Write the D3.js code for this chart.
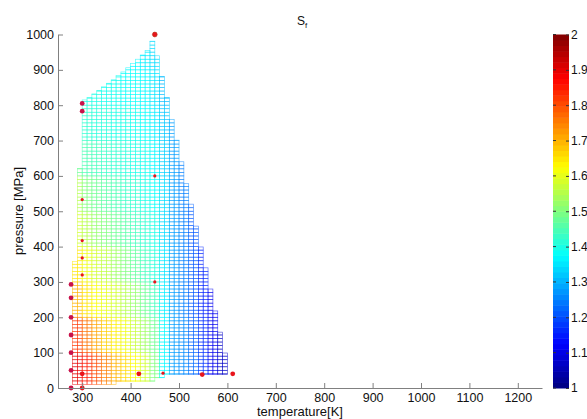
<!DOCTYPE html>
<html><head><meta charset="utf-8">
<script src="https://cdn.jsdelivr.net/npm/d3@7"></script>
<style>
body{margin:0;background:#fff}
text{font-family:"Liberation Sans",Arial,sans-serif}
</style>
</head><body>
<svg id="chart" width="587" height="419"></svg>
<script>
// ---------- data ----------
const xTicks = [300,400,500,600,700,800,900,1000,1100,1200];
const yTicks = [0,100,200,300,400,500,600,700,800,900,1000];
const cbTicks = [1,1.1,1.2,1.3,1.4,1.5,1.6,1.7,1.8,1.9,2];

// mesh columns (temperature start of each 10 K column), top / bottom pressure
const colStartT = [280,290,300,310,320,330,340,350,360,370,380,390,400,410,420,430,440,450,460,470,480,490,500,510,520,530,540,550,560,570,580,590];
const colTopP   = [358,621,815,822,832,842,852,862,872,884,894,906,918,930,942,955,981,940,881,822,760,701,640,578,520,458,399,340,280,218,158,99];
const colBottomP= [10,10,10,10,10,10,10,10,10,19,19,19,19,19,19,19,19,29,29,38,38,38,38,38,38,38,38,38,38,38,38,38];
const meshStepT = 10, meshStepP = 10;

// S_f values read per 20 K x 100 MPa block
const sfTBins = [280,300,320,340,360,380,400,420,440,460,480,500,520,540,560,580];
const sfPBins = [0,100,200,300,400,500,600,700,800,900];
const sfP0   = [1.90,1.85,1.80,1.75,1.70,1.66,1.62,1.58,1.50,1.37,1.28,1.26,1.23,1.18,1.11,1.07];
const sfP100 = [1.82,1.76,1.71,1.67,1.64,1.61,1.57,1.53,1.48,1.37,1.28,1.26,1.22,1.17,1.11,1.07];
const sfP200 = [1.70,1.65,1.62,1.60,1.58,1.55,1.52,1.48,1.44,1.36,1.28,1.25,1.21,1.16,1.11,1.07];
const sfP300 = [1.65,1.61,1.58,1.56,1.53,1.50,1.47,1.44,1.41,1.35,1.28,1.25,1.21,1.16,1.11,1.07];
const sfP400 = [1.58,1.55,1.52,1.50,1.48,1.46,1.44,1.42,1.40,1.34,1.28,1.25,1.21,1.17,1.11,1.07];
const sfP500 = [1.55,1.50,1.48,1.46,1.45,1.43,1.42,1.40,1.38,1.34,1.28,1.25,1.22,1.18,1.11,1.07];
const sfP600 = [1.48,1.45,1.44,1.43,1.42,1.41,1.40,1.39,1.37,1.33,1.28,1.25,1.22,1.18,1.11,1.07];
const sfP700 = [1.45,1.42,1.41,1.41,1.40,1.40,1.39,1.38,1.36,1.32,1.28,1.25,1.22,1.18,1.11,1.07];
const sfP800 = [1.42,1.40,1.40,1.39,1.39,1.38,1.38,1.37,1.35,1.31,1.28,1.25,1.22,1.18,1.11,1.07];
const sfP900 = [1.40,1.39,1.39,1.38,1.38,1.37,1.37,1.36,1.34,1.31,1.28,1.25,1.22,1.18,1.11,1.07];

// measured points
const ptT = [450,300,300,450,300,300,300,300,450,277,277,277,277,277,277,277,300,300,417,467,548,611];
const ptP = [1000,805,783,600,533,417,368,320,300,293,255,200,150,100,50,0,0,40,40,42,38,40];
const ptGroup = ["top","edge","edge","inner","inner","inner","inner","inner","inner","edge","edge","edge","edge","edge","edge","edge","bottom","bottom","bottom","inner","bottom","bottom"];

// ---------- drawing ----------
const sfGrid = [sfP0,sfP100,sfP200,sfP300,sfP400,sfP500,sfP600,sfP700,sfP800,sfP900];
const svg = d3.select("#chart");
const x = d3.scaleLinear().domain([250,1250]).range([58,542]);
const y = d3.scaleLinear().domain([0,1000]).range([388,34.5]);
const cbY = d3.scaleLinear().domain([1,2]).range([388,34.5]);

function jet(v){
  const t = Math.max(0,Math.min(1,(v-1)/1));
  const cl = a=>Math.max(0,Math.min(1,a));
  const r = cl(Math.min(4*t-1.5,-4*t+4.5));
  const g = cl(Math.min(4*t-0.5,-4*t+3.5));
  const b = cl(Math.min(4*t+0.5,-4*t+2.5));
  return d3.rgb(r*255,g*255,b*255).formatHex();
}
function sfAt(T,P){
  let i = d3.bisectRight(sfTBins,T)-1; i = Math.max(0,Math.min(sfTBins.length-1,i));
  let j = d3.bisectRight(sfPBins,P)-1; j = Math.max(0,Math.min(sfPBins.length-1,j));
  return sfGrid[j][i];
}

// mesh cells
const cells = [];
colStartT.forEach((t0,k)=>{
  const t1 = t0+meshStepT, pb = colBottomP[k], pt = colTopP[k];
  let p = pb;
  while(p < pt-0.5){
    const pNext = Math.min(pt,(Math.floor(p/meshStepP)+1)*meshStepP);
    cells.push({t0,t1,p0:p,p1:pNext,v:sfAt(t0+5,(p+pNext)/2)});
    p = pNext;
  }
});
svg.append("g").selectAll("rect").data(cells).join("rect")
  .attr("x",d=>x(d.t0)).attr("y",d=>y(d.p1))
  .attr("width",d=>x(d.t1)-x(d.t0)).attr("height",d=>y(d.p0)-y(d.p1))
  .attr("fill","none").attr("stroke",d=>jet(d.v)).attr("stroke-width",0.7).attr("stroke-opacity",0.65);

// points
const pts = ptT.map((t,i)=>({t,p:ptP[i],g:ptGroup[i]}));
svg.append("g").selectAll("circle").data(pts).join("circle")
  .attr("cx",d=>x(d.t)).attr("cy",d=>y(d.p))
  .attr("r",d=>d.g==="inner"?1.6:2.4)
  .attr("fill",d=>d.g==="edge"?"#c8124a":"#e8141c")
  .attr("stroke",d=>d.g==="top"?"#b03010":"none").attr("stroke-width",0.6);

// axes
const ax = svg.append("g").attr("transform","translate(0,388)")
  .call(d3.axisBottom(x).tickValues(xTicks).tickFormat(d3.format("d")).tickSizeInner(-5).tickSizeOuter(0).tickPadding(5));
const ay = svg.append("g").attr("transform","translate(58,0)")
  .call(d3.axisLeft(y).tickValues(yTicks).tickFormat(d3.format("d")).tickSizeInner(-5).tickSizeOuter(0).tickPadding(4));
[ax,ay].forEach(a=>{
  a.select(".domain").attr("stroke","#808080");
  a.selectAll(".tick line").attr("stroke","#808080");
  a.selectAll("text").attr("fill","#111").style("font-size","12.5px");
});

// colorbar
const nBands = 64;
const bands = d3.range(nBands).map(i=>1+i/nBands);
svg.append("g").selectAll("rect").data(bands).join("rect")
  .attr("x",553).attr("width",16)
  .attr("y",d=>cbY(d+1/nBands)).attr("height",d=>cbY(d)-cbY(d+1/nBands)+0.5)
  .attr("fill",d=>jet(d+0.5/nBands));
const cb = svg.append("g").attr("transform","translate(569,0)")
  .call(d3.axisRight(cbY).tickValues(cbTicks).tickFormat(d3.format("~g")).tickSizeInner(-3).tickSizeOuter(0).tickPadding(2));
cb.select(".domain").remove();
cb.selectAll(".tick line").attr("stroke","#333");
cb.selectAll("text").attr("fill","#111").style("font-size","12px");
svg.append("g").selectAll("line").data(cbTicks).join("line")
  .attr("x1",553).attr("x2",556).attr("y1",d=>cbY(d)).attr("y2",d=>cbY(d)).attr("stroke","#333");

// titles
const title = svg.append("text").attr("x",297).attr("y",25).attr("fill","#111").style("font-size","12px");
title.append("tspan").text("S");
title.append("tspan").attr("dy",3).style("font-size","8px").text("f");
svg.append("text").attr("x",300).attr("y",416).attr("text-anchor","middle").attr("fill","#111").style("font-size","13px").text("temperature[K]");
svg.append("text").attr("transform","translate(23,211) rotate(-90)").attr("text-anchor","middle").attr("fill","#111").style("font-size","13px").text("pressure [MPa]");
</script>
</body></html>
